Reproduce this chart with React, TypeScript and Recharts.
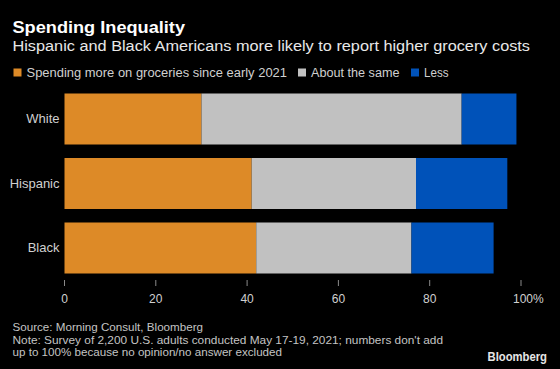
import React from 'react'
import { BarChart, Bar, XAxis, YAxis } from 'recharts'

const categories = ['White', 'Hispanic', 'Black']
const spendingMore = [30, 41, 42]
const aboutSame = [57, 36, 34]
const less = [12, 20, 18]
const xTicks = [0, 20, 40, 60, 80, 100]

const seriesNames = ['Spending more on groceries since early 2021', 'About the same', 'Less']
const seriesColors = ['#dd8a27', '#c1c1c1', '#0052b9']

const data = categories.map((name, i) => ({
  name,
  more: spendingMore[i],
  same: aboutSame[i],
  less: less[i],
}))

const FONT = "'Liberation Sans', Arial, sans-serif"

function XTick({ x, y, payload }: any) {
  const v = payload.value
  if (v === 100) {
    return (
      <text x={x - 8} y={y} dy="0.71em" textAnchor="start" fill="#d0d0d0" fontSize={12} fontFamily={FONT}>
        100%
      </text>
    )
  }
  return (
    <text x={x} y={y} dy="0.71em" textAnchor="middle" fill="#d0d0d0" fontSize={12} fontFamily={FONT}>
      {v}
    </text>
  )
}

export default function App() {
  // legend positions
  const legendX = [13.5, 298, 411]
  const legendW = [260.5, 88.5, 24.5]

  return (
    <div style={{ position: 'absolute', left: 0, top: 0, width: 560, height: 369, background: '#000', overflow: 'hidden' }}>
      <BarChart
        width={560}
        height={369}
        data={data}
        layout="vertical"
        margin={{ top: 86.5, right: 39, bottom: 59, left: 0 }}
      >
        <XAxis
          type="number"
          domain={[0, 100]}
          ticks={xTicks}
          axisLine={false}
          tickLine={{ stroke: '#8a8a8a' }}
          tickSize={6}
          tickMargin={8}
          height={30}
          tick={<XTick />}
        />
        <YAxis
          type="category"
          dataKey="name"
          width={64.5}
          axisLine={false}
          tickLine={false}
          tickSize={0}
          tickMargin={5}
          tick={{ fill: '#d0d0d0', fontSize: 13, fontFamily: FONT }}
        />
        <Bar dataKey="more" stackId="a" fill={seriesColors[0]} barSize={51} isAnimationActive={false} />
        <Bar dataKey="same" stackId="a" fill={seriesColors[1]} barSize={51} isAnimationActive={false} />
        <Bar dataKey="less" stackId="a" fill={seriesColors[2]} barSize={51} isAnimationActive={false} />
      </BarChart>

      <svg width={560} height={369} style={{ position: 'absolute', left: 0, top: 0, pointerEvents: 'none' }}>
        <text x={12.5} y={33} fill="#fff" fontSize={17} fontWeight="bold" fontFamily={FONT} textLength={172.5} lengthAdjust="spacingAndGlyphs">
          Spending Inequality
        </text>
        <text x={12.5} y={51} fill="#e8e8e8" fontSize={15.5} fontFamily={FONT} textLength={517.5} lengthAdjust="spacingAndGlyphs">
          Hispanic and Black Americans more likely to report higher grocery costs
        </text>

        {seriesNames.map((s, i) => (
          <g key={s}>
            <rect x={legendX[i]} y={68.5} width={8} height={8} fill={seriesColors[i]} />
            <text x={legendX[i] + 13} y={77} fill="#d0d0d0" fontSize={12.5} fontFamily={FONT} textLength={legendW[i]} lengthAdjust="spacingAndGlyphs">
              {s}
            </text>
          </g>
        ))}

        <text x={12.5} y={331} fill="#c4c4c4" fontSize={11.5} fontFamily={FONT} textLength={190.5} lengthAdjust="spacingAndGlyphs">
          Source: Morning Consult, Bloomberg
        </text>
        <text x={12.5} y={343.5} fill="#c4c4c4" fontSize={11.5} fontFamily={FONT} textLength={430.5} lengthAdjust="spacingAndGlyphs">
          Note: Survey of 2,200 U.S. adults conducted May 17-19, 2021; numbers don't add
        </text>
        <text x={12.5} y={356} fill="#c4c4c4" fontSize={11.5} fontFamily={FONT} textLength={269.5} lengthAdjust="spacingAndGlyphs">
          up to 100% because no opinion/no answer excluded
        </text>
        <text x={487.5} y={361} fill="#e6e6e6" fontSize={12} fontWeight="bold" fontFamily={FONT} textLength={59.5} lengthAdjust="spacingAndGlyphs">
          Bloomberg
        </text>
      </svg>
    </div>
  )
}
